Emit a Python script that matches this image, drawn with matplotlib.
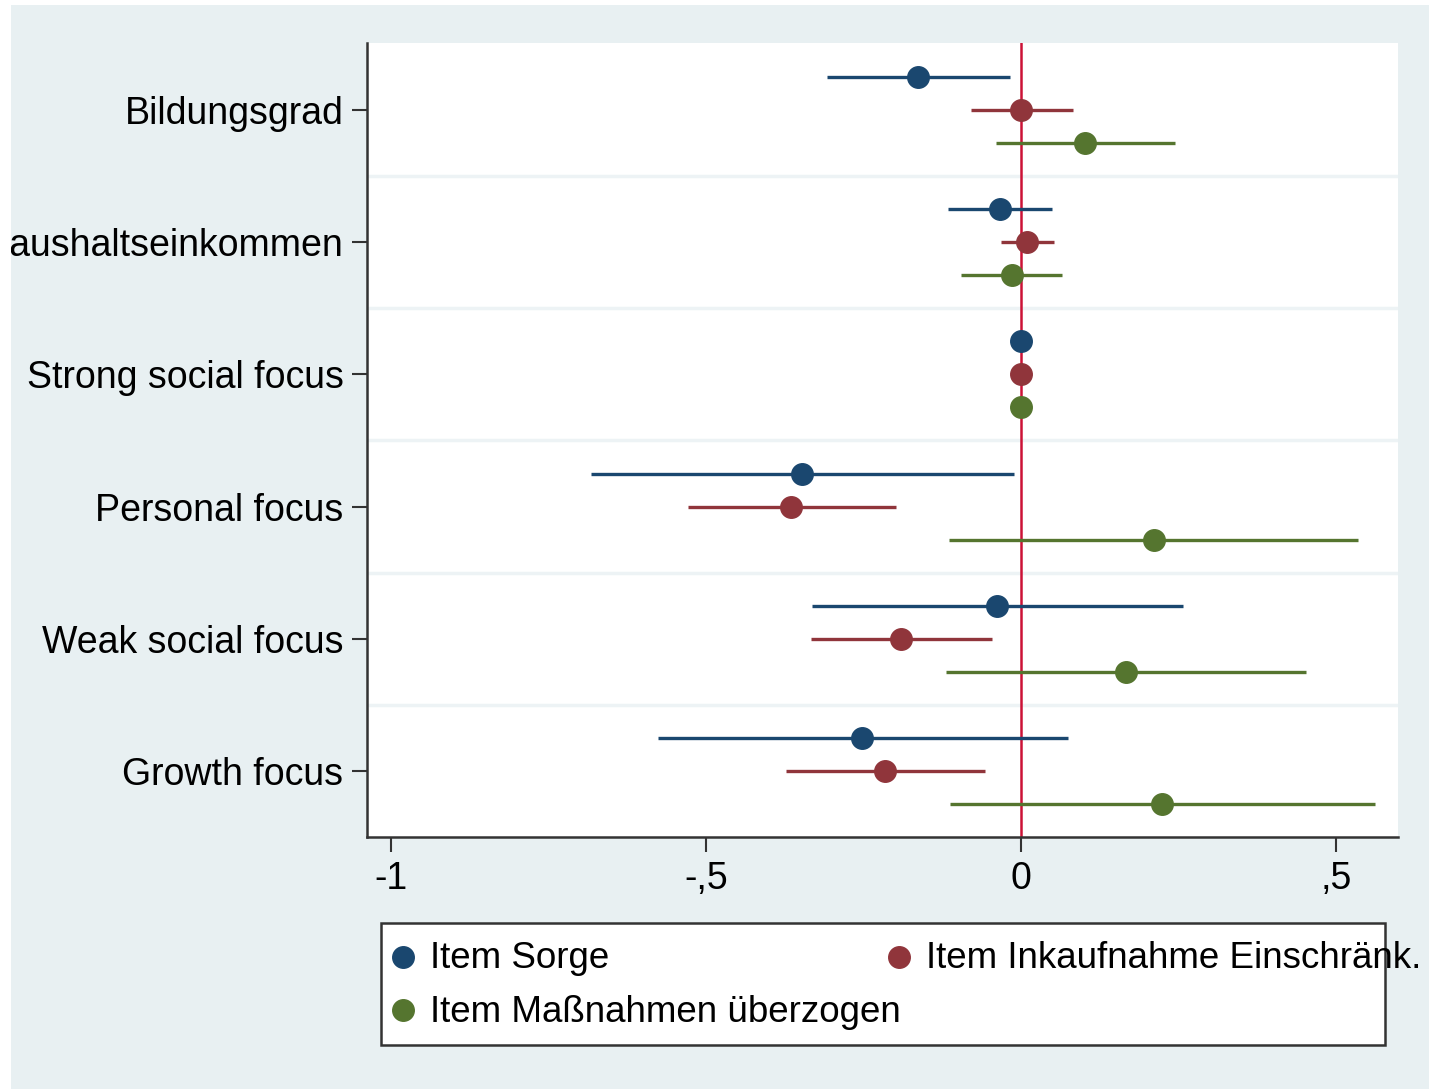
import matplotlib
matplotlib.use("Agg")
import matplotlib.pyplot as plt
from matplotlib.patches import Rectangle
from matplotlib.lines import Line2D
from matplotlib.transforms import Bbox, TransformedBbox
import numpy as np

plt.rcParams['font.family'] = ['Liberation Sans', 'DejaVu Sans']

categories = ["Bildungsgrad", "Haushaltseinkommen", "Strong social focus",
              "Personal focus", "Weak social focus", "Growth focus"]
series_names = ["Item Sorge", "Item Inkaufnahme Einschränk.", "Item Maßnahmen überzogen"]

sorge_est = [-0.164, -0.033, 0.0, -0.348, -0.038, -0.252]
sorge_lo = [-0.308, -0.116, 0.0, -0.683, -0.332, -0.576]
sorge_hi = [-0.018, 0.049, 0.0, -0.011, 0.257, 0.075]

einschr_est = [0.0, 0.0095, 0.0, -0.365, -0.190, -0.216]
einschr_lo = [-0.079, -0.032, 0.0, -0.529, -0.333, -0.373]
einschr_hi = [0.083, 0.052, 0.0, -0.198, -0.046, -0.057]

massn_est = [0.1016, -0.014, 0.0, 0.211, 0.167, 0.224]
massn_lo = [-0.040, -0.095, 0.0, -0.114, -0.119, -0.113]
massn_hi = [0.244, 0.065, 0.0, 0.535, 0.452, 0.562]

xticks = [-1, -0.5, 0, 0.5]
xticklabels = ["-1", "-,5", "0", ",5"]

colors = ["#1a476f", "#90353b", "#55752f"]
panel_color = "#e8f0f2"
grid_color = "#edf3f5"
FS = 27
LFS = 26.5

W, H = 1429, 1091
fig = plt.figure(figsize=(W / 100, H / 100), dpi=100)
fig.patch.set_facecolor("white")
# outer Stata-like graph region
fig.patches.append(Rectangle((11 / W, 1 - 1089 / H), (W - 11) / W, (1089 - 5) / H,
                             transform=fig.transFigure, facecolor=panel_color,
                             edgecolor="none", zorder=-10))

ax = fig.add_axes([367 / W, 1 - 837 / H, (1398 - 367) / W, (837 - 43) / H])
ax.set_facecolor("white")

ypos = np.arange(len(categories))
offsets = [-0.25, 0.0, 0.25]
allseries = [(sorge_est, sorge_lo, sorge_hi), (einschr_est, einschr_lo, einschr_hi),
             (massn_est, massn_lo, massn_hi)]

# group separators
for b in np.arange(0.5, len(categories) - 0.5, 1.0):
    ax.axhline(b, color=grid_color, lw=2.5, zorder=0)

ax.axvline(0, color="#cc1236", lw=1.8, zorder=2)

handles = []
for (est, lo, hi), off, c, name in zip(allseries, offsets, colors, series_names):
    y = ypos + off
    ax.hlines(y, lo, hi, color=c, lw=2.4, zorder=3)
    h, = ax.plot(est, y, 'o', color=c, ms=15.5, mec=c, zorder=4, label=name)
    handles.append(h)

ax.set_xlim((367 - 1021) / 630, (1398 - 1021) / 630)
ax.set_ylim(5.5, -0.507)
ax.set_yticks(ypos)
ax.set_yticklabels(categories, fontsize=FS)
ax.set_xticks(xticks)
ax.set_xticklabels(xticklabels, fontsize=FS)
ax.tick_params(axis='both', length=11, width=1.5, color="#333333")
ax.tick_params(axis='y', pad=6)
ax.tick_params(axis='x', pad=6)

for s in ["top", "right"]:
    ax.spines[s].set_visible(False)
for s in ["left", "bottom"]:
    ax.spines[s].set_color("#333333")
    ax.spines[s].set_linewidth(1.8)

# clip y labels at the graph-region edge (as in the reference)
clipbox = TransformedBbox(Bbox([[11 / W, 0], [1, 1]]), fig.transFigure)
for lbl in ax.get_yticklabels():
    lbl.set_clip_on(True)
    lbl.set_clip_box(clipbox)

# legend box (manual, Stata style)
fig.patches.append(Rectangle((381 / W, 1 - 1045 / H), (1385 - 381) / W, (1045 - 923) / H,
                             transform=fig.transFigure, facecolor="white",
                             edgecolor="#333333", lw=1.8, zorder=1))
leg_pos = [(403, 957), (899, 957), (403, 1010)]
for h, (px, py) in zip(handles, leg_pos):
    fig.lines.append(Line2D([px / W], [1 - py / H], marker='o', ms=15.5,
                            color=h.get_color(), mec=h.get_color(), ls='none',
                            transform=fig.transFigure, zorder=3))
    fig.text((px + 27) / W, 1 - (py + 2) / H, h.get_label(), fontsize=LFS,
             va='center', ha='left', zorder=3)

fig.savefig("out.png", dpi=100, facecolor=fig.get_facecolor())
